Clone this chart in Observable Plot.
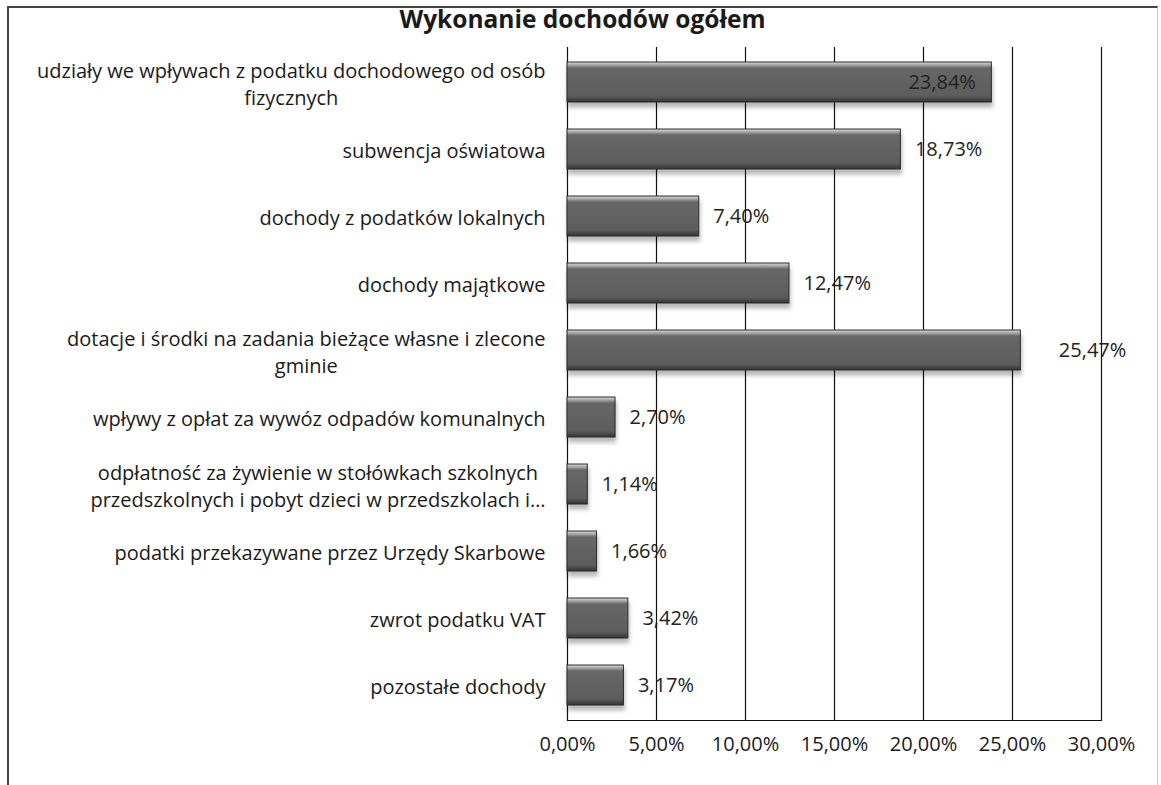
<!DOCTYPE html>
<html>
<head>
<meta charset="utf-8">
<script src="https://cdn.jsdelivr.net/npm/d3@7"></script>
<script src="https://cdn.jsdelivr.net/npm/@observablehq/plot@0.6"></script>
<style>
  html, body { margin: 0; padding: 0; background: #fff; }
  #wrap { position: relative; width: 1161px; height: 785px; overflow: hidden; font-family: "Open Sans", sans-serif; }
  #border { position: absolute; left: 7px; top: 6px; right: 3px; bottom: -10px;
            border-top: 2px solid #444; border-left: 2px solid #444; border-right: 1px solid #ccc; }
  #title { position: relative; height: 38px; line-height: 38px; text-align: center;
           font-weight: bold; font-size: 24.5px; color: #1a1a1a; padding-left: 4px; }
  #chart svg { display: block; }
</style>
</head>
<body>
<div id="wrap">
  <div id="border"></div>
  <div id="title">Wykonanie dochodów ogółem</div>
  <div id="chart"></div>
</div>
<script>
const categories = [
  "udziały we wpływach z podatku dochodowego od osób\nfizycznych",
  "subwencja oświatowa",
  "dochody z podatków lokalnych",
  "dochody majątkowe",
  "dotacje i środki na zadania bieżące własne i zlecone\ngminie",
  "wpływy z opłat za wywóz odpadów komunalnych",
  "odpłatność za żywienie w stołówkach szkolnych\nprzedszkolnych i pobyt dzieci w przedszkolach i…",
  "podatki przekazywane przez Urzędy Skarbowe",
  "zwrot podatku VAT",
  "pozostałe dochody"
];
const values = [23.84, 18.73, 7.40, 12.47, 25.47, 2.70, 1.14, 1.66, 3.42, 3.17];
const xTicks = [0, 5, 10, 15, 20, 25, 30];

const data = categories.map((c, i) => ({category: c, value: values[i], i}));
const pct = d => d.toFixed(2).replace(".", ",") + "%";

const insideLabels = data.filter(d => d.i === 0);
const farLabels = data.filter(d => d.i === 4);
const normalLabels = data.filter(d => d.i !== 0 && d.i !== 4);

const FS = 20;
const chart = Plot.plot({
  width: 1161,
  height: 747,
  marginTop: 9,
  marginBottom: 65,
  marginLeft: 567,
  marginRight: 60,
  style: {fontFamily: "'Open Sans', sans-serif", fontSize: FS + "px", color: "#1a1a1a", background: "transparent"},
  x: {domain: [0, 30], label: null},
  y: {domain: categories, label: null, paddingInner: 0.4, paddingOuter: 0.2},
  marks: [
    Plot.gridX(xTicks, {stroke: "#111", strokeOpacity: 1, strokeWidth: 1.2}),
    Plot.frame({anchor: "bottom", stroke: "#111", strokeWidth: 1.2}),
    Plot.barX(data, {x: "value", y: "category", fill: "url(#barGrad)", stroke: "#2b2b2b", strokeWidth: 1}),
    Plot.text(insideLabels, {x: "value", y: "category", text: d => pct(d.value), textAnchor: "end", dx: -16, fontSize: FS, fill: "#222"}),
    Plot.text(normalLabels, {x: "value", y: "category", text: d => pct(d.value), textAnchor: "start", dx: 14, fontSize: FS, fill: "#222"}),
    Plot.text(farLabels, {x: "value", y: "category", text: d => pct(d.value), textAnchor: "start", dx: 38, fontSize: FS, fill: "#222"}),
    Plot.axisX({ticks: xTicks, tickFormat: pct, tickSize: 0, tickPadding: 16, fontSize: FS, label: null}),
    Plot.axisY({tickSize: 0, tickPadding: 22, fontSize: FS, lineHeight: 1.35, label: null})
  ]
});

document.getElementById("chart").appendChild(chart);

// gradient for the bevelled bars
const ns = "http://www.w3.org/2000/svg";
const defs = document.createElementNS(ns, "defs");
defs.innerHTML = `<linearGradient id="barGrad" x1="0" y1="0" x2="0" y2="1">
  <stop offset="0" stop-color="#dcdcdc"/>
  <stop offset="0.09" stop-color="#9a9a9a"/>
  <stop offset="0.15" stop-color="#676767"/>
  <stop offset="0.85" stop-color="#5d5d5d"/>
  <stop offset="0.93" stop-color="#474747"/>
  <stop offset="1" stop-color="#333"/>
</linearGradient>`;
chart.insertBefore(defs, chart.firstChild);
chart.querySelectorAll('g[aria-label="bar"] rect').forEach(r => {
  r.style.filter = "drop-shadow(1px 5px 2px rgba(0,0,0,0.28))";
});

// centre wrapped category labels within their right-aligned block
chart.querySelectorAll('g[aria-label="y-axis tick label"] text').forEach(t => {
  const spans = t.querySelectorAll("tspan");
  if (spans.length > 1) {
    const w = t.getBBox().width;
    t.setAttribute("text-anchor", "middle");
    spans.forEach(s => s.setAttribute("x", -w / 2));
  }
});
</script>
</body>
</html>
